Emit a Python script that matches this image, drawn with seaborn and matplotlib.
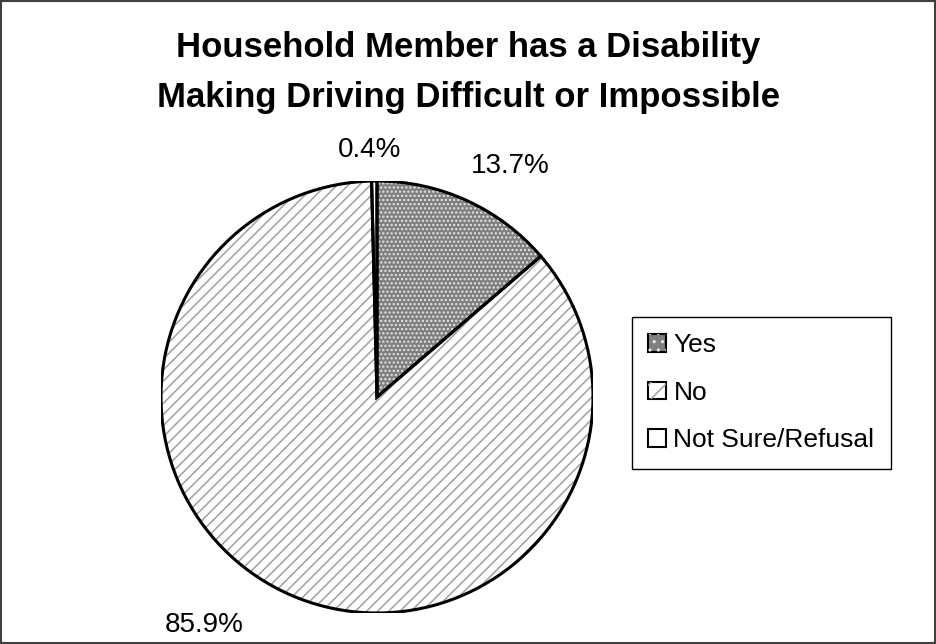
import numpy as np
import matplotlib
matplotlib.use("Agg")
import matplotlib.pyplot as plt
from matplotlib.patches import Wedge, Patch, Rectangle
from matplotlib.legend_handler import HandlerTuple
import seaborn as sns

# Survey answers and their shares (percent)
categories = ["Yes", "No", "Not Sure/Refusal"]
shares = [13.7, 85.9, 0.4]
title_lines = ["Household Member has a Disability",
               "Making Driving Difficult or Impossible"]

sns.set_theme(style="white")
plt.rcParams["font.family"] = ["Liberation Sans", "DejaVu Sans"]
plt.rcParams["hatch.linewidth"] = 1.1

face_colors = ["#7f7f7f", "#ffffff", "#ffffff"]
hatches = ["....", "///", None]
hatch_colors = ["#e6e6e6", "#a0a0a0", "#000000"]
# label placement: radial distance and angular nudge (degrees)
label_dist = [1.236, 1.327, 1.144]
label_nudge = [-5.4, -13.2, 0.9]

fig = plt.figure(figsize=(9.37, 6.44), dpi=100)
fig.patch.set_facecolor("white")
fig.patches.append(Rectangle((0.001, 0.002), 0.997, 0.996, transform=fig.transFigure,
                             fill=False, edgecolor="#404040", linewidth=1.5))

cx, cy, r = 377, 397, 216
W, H = 937, 644
ax = fig.add_axes([(cx - r) / W, (H - cy - r) / H, 2 * r / W, 2 * r / H])

wedges, _ = ax.pie(shares, colors=face_colors, startangle=90, counterclock=False,
                   radius=1.0, wedgeprops=dict(linewidth=0))

for w, h, hc in zip(wedges, hatches, hatch_colors):
    if h:
        ax.add_patch(Wedge(w.center, w.r, w.theta1, w.theta2, fill=False,
                           hatch=h, edgecolor=hc, linewidth=0))
    ax.add_patch(Wedge(w.center, w.r, w.theta1, w.theta2, fill=False,
                       edgecolor="black", linewidth=2.2))

for w, v, d, n in zip(wedges, shares, label_dist, label_nudge):
    ang = np.deg2rad((w.theta1 + w.theta2) / 2 + n)
    ax.text(d * np.cos(ang), d * np.sin(ang), f"{v:.1f}%", ha="center", va="center",
            fontsize=20, color="black")

ax.set_xlim(-1, 1)
ax.set_ylim(-1, 1)
ax.set_aspect("auto")
ax.axis("off")

fig.text(0.5, 1 - 48 / H, title_lines[0], ha="center", va="center",
         fontsize=25, fontweight="bold", color="black")
fig.text(0.5, 1 - 97 / H, title_lines[1], ha="center", va="center",
         fontsize=25, fontweight="bold", color="black")

handles = []
for fc, h, hc in zip(face_colors, hatches, hatch_colors):
    base = Patch(facecolor=fc, edgecolor="black", linewidth=1.5)
    if h:
        handles.append((base, Patch(fill=False, hatch=h[:2], edgecolor=hc, linewidth=0)))
    else:
        handles.append(base)

leg = fig.legend(handles, categories, loc="upper left",
                 bbox_to_anchor=(632 / W, 1 - 317 / H), bbox_transform=fig.transFigure,
                 fontsize=19, frameon=True, fancybox=False, framealpha=1,
                 edgecolor="black", borderpad=0.62, labelspacing=0.89,
                 handlelength=0.65, handleheight=0.65, handletextpad=0.3,
                 borderaxespad=0, handler_map={tuple: HandlerTuple(ndivide=1, pad=0)})
leg.get_frame().set_linewidth(1.0)
for t in leg.get_texts():
    t.set_color("black")

fig.savefig("out.png", dpi=100, facecolor="white")
